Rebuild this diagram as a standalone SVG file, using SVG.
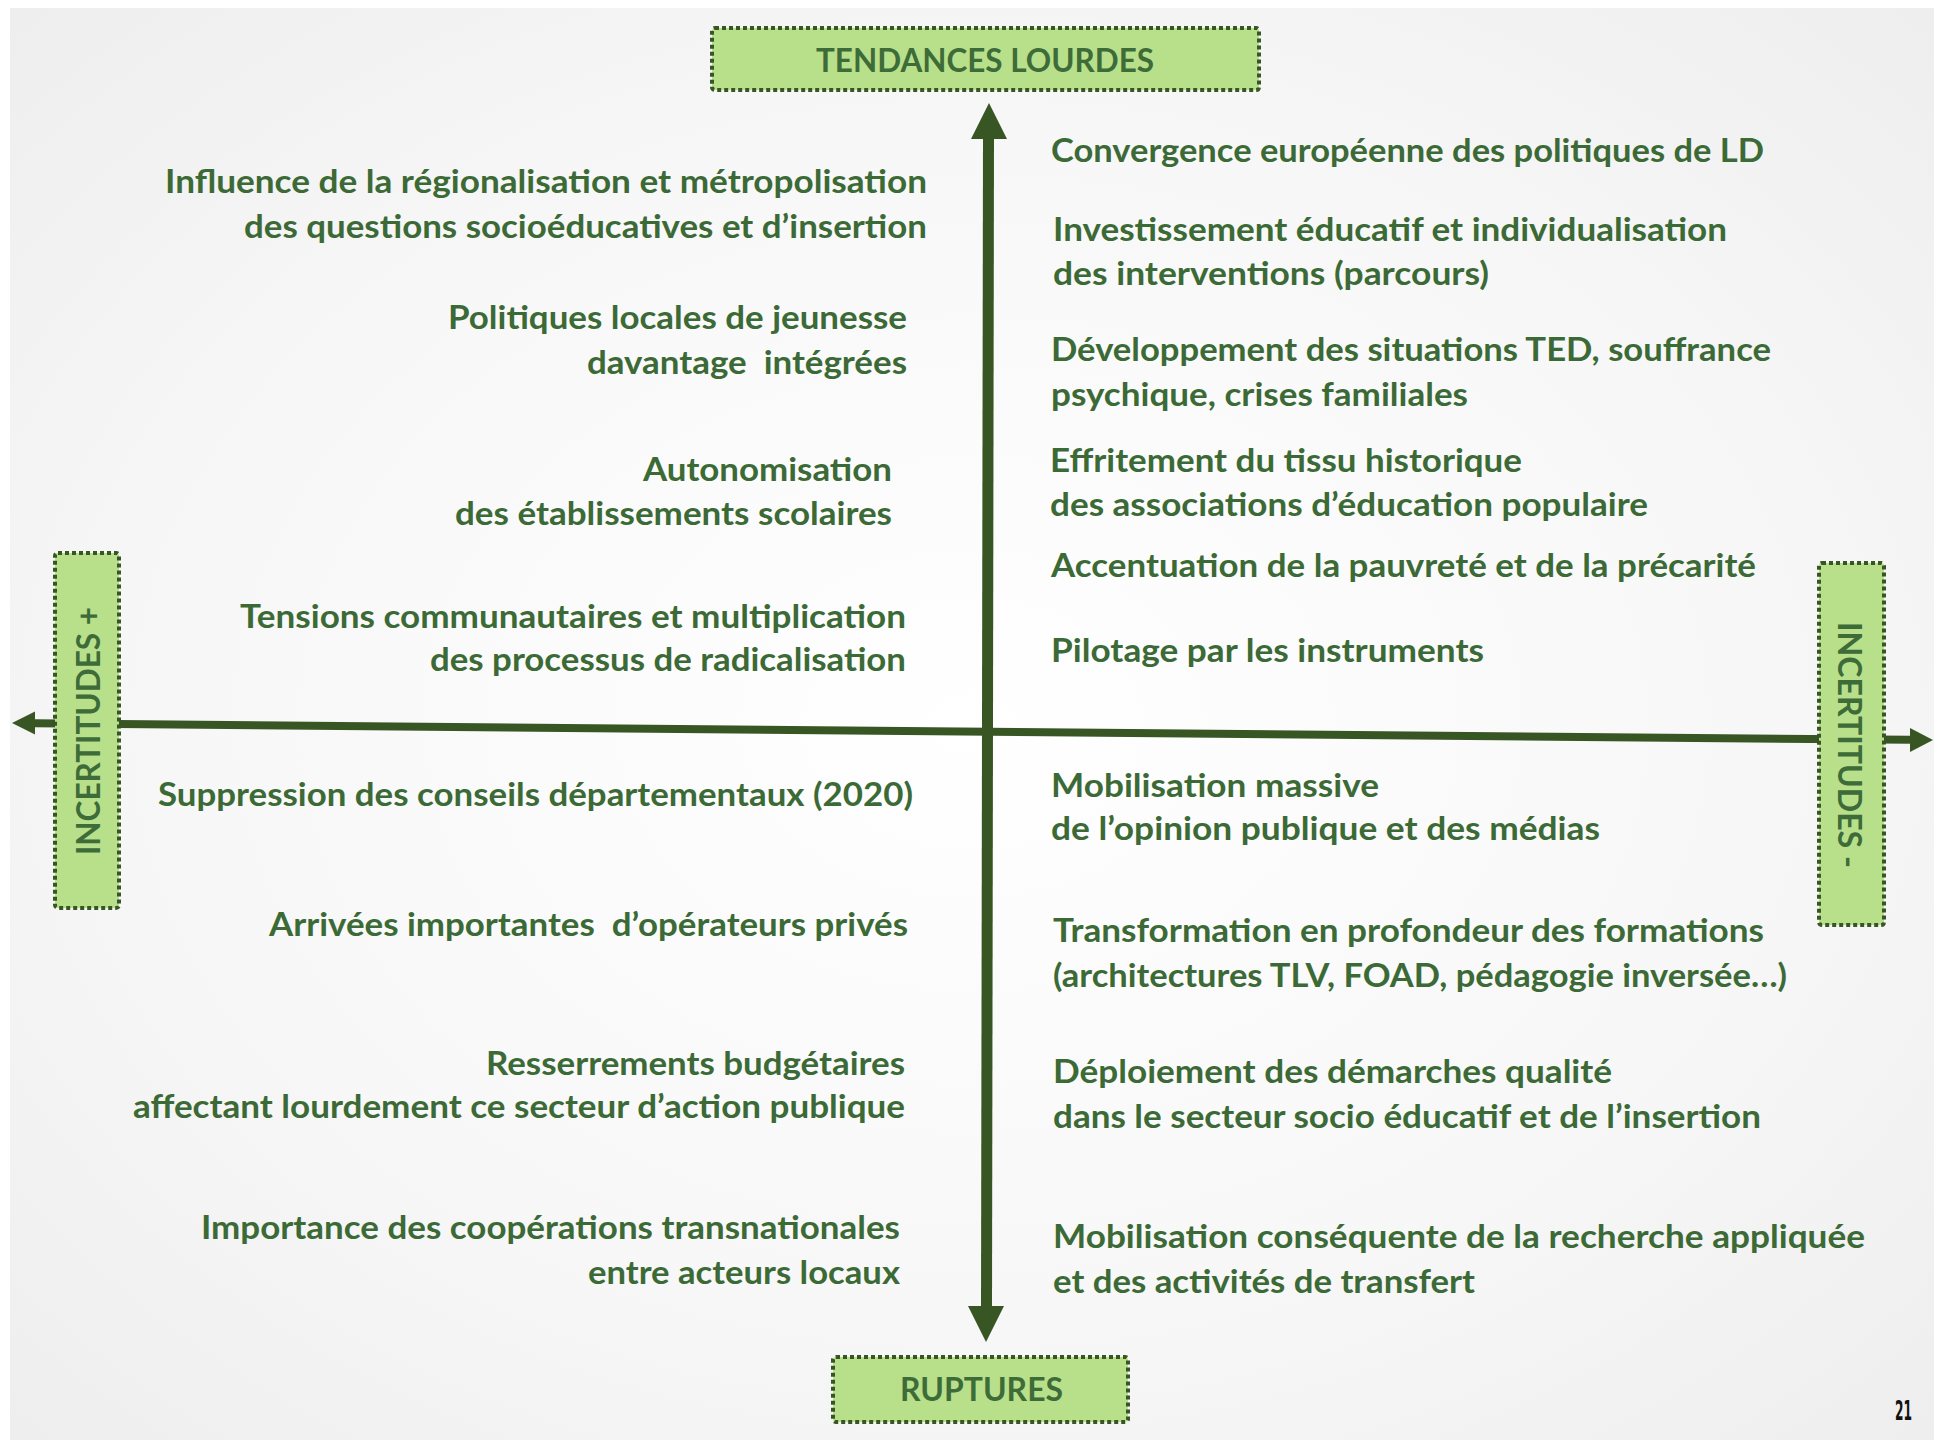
<svg xmlns="http://www.w3.org/2000/svg" width="1934" height="1440" viewBox="0 0 1934 1440">
<defs>
<radialGradient id="bg" cx="50%" cy="50%" r="70%">
<stop offset="0" stop-color="#ffffff"/>
<stop offset="0.6" stop-color="#f7f7f7"/>
<stop offset="1" stop-color="#eeeeee"/>
</radialGradient>
</defs>
<style>
.t{font-family:Lato,"Open Sans","Liberation Sans",sans-serif;font-weight:700;font-size:32px;fill:#3c6a36}
.lbl{font-family:Lato,"Open Sans","Liberation Sans",sans-serif;font-weight:700;font-size:32px;fill:#3e6c39}
.box{fill:#b8e08a;stroke:#375623;stroke-width:4;stroke-dasharray:4 3}
.ax{stroke:#375623;fill:none}
.hd{fill:#375623}
</style>
<rect x="0" y="0" width="1934" height="1440" fill="#ffffff"/>
<rect x="10" y="8" width="1924" height="1432" fill="url(#bg)"/>

<g id="connectors">
<line class="ax" x1="35" y1="723.2" x2="1910" y2="739.8" stroke-width="8"/>
<path class="hd" d="M12,723 L35,711.5 L35,734.5 Z"/>
<path class="hd" d="M1933,740 L1910,728 L1910,752 Z"/>
<line class="ax" x1="988.5" y1="135" x2="986.5" y2="1310" stroke-width="11"/>
<path class="hd" d="M989,103 L1007,139 L971,139 Z"/>
<path class="hd" d="M986,1342 L968,1306 L1004,1306 Z"/>
</g>

<g id="node-tendances">
<rect class="box" x="712" y="28" width="547" height="62" rx="3"/>
<text class="lbl" x="816" y="72" font-size="33" textLength="338" lengthAdjust="spacingAndGlyphs">TENDANCES LOURDES</text>
</g>
<g id="node-ruptures">
<rect class="box" x="833" y="1357" width="295" height="65" rx="3"/>
<text class="lbl" x="900" y="1401" textLength="163" lengthAdjust="spacingAndGlyphs">RUPTURES</text>
</g>
<g id="node-incertitudes-plus">
<rect class="box" x="55" y="553" width="64" height="355" rx="3"/>
<text class="lbl" transform="translate(100,731) rotate(-90)" x="-124" y="0" textLength="248" lengthAdjust="spacingAndGlyphs">INCERTITUDES +</text>
</g>
<g id="node-incertitudes-moins">
<rect class="box" x="1819" y="563" width="65" height="362" rx="3"/>
<text class="lbl" transform="translate(1838,745) rotate(90)" x="-123" y="0" textLength="246" lengthAdjust="spacingAndGlyphs">INCERTITUDES -</text>
</g>

<g id="left-items">
<g id="l1">
<text class="t" x="165" y="193" textLength="762" lengthAdjust="spacingAndGlyphs">Influence de la régionalisation et métropolisation</text>
<text class="t" x="244" y="238" textLength="683" lengthAdjust="spacingAndGlyphs">des questions socioéducatives et d’insertion</text>
</g>
<g id="l2">
<text class="t" x="448" y="329" textLength="459" lengthAdjust="spacingAndGlyphs">Politiques locales de jeunesse</text>
<text class="t" x="587" y="374" textLength="320" lengthAdjust="spacingAndGlyphs" xml:space="preserve">davantage  intégrées</text>
</g>
<g id="l3">
<text class="t" x="643" y="481" textLength="249" lengthAdjust="spacingAndGlyphs">Autonomisation</text>
<text class="t" x="455" y="525" textLength="437" lengthAdjust="spacingAndGlyphs">des établissements scolaires</text>
</g>
<g id="l4">
<text class="t" x="240" y="628" textLength="666" lengthAdjust="spacingAndGlyphs">Tensions communautaires et multiplication</text>
<text class="t" x="430" y="671" textLength="476" lengthAdjust="spacingAndGlyphs">des processus de radicalisation</text>
</g>
<g id="l5">
<text class="t" x="158" y="806" textLength="755" lengthAdjust="spacingAndGlyphs">Suppression des conseils départementaux (2020)</text>
</g>
<g id="l6">
<text class="t" x="269" y="936" textLength="639" lengthAdjust="spacingAndGlyphs" xml:space="preserve">Arrivées importantes  d’opérateurs privés</text>
</g>
<g id="l7">
<text class="t" x="486" y="1075" textLength="419" lengthAdjust="spacingAndGlyphs">Resserrements budgétaires</text>
<text class="t" x="133" y="1118" textLength="772" lengthAdjust="spacingAndGlyphs">affectant lourdement ce secteur d’action publique</text>
</g>
<g id="l8">
<text class="t" x="201" y="1239" textLength="699" lengthAdjust="spacingAndGlyphs">Importance des coopérations transnationales</text>
<text class="t" x="588" y="1284" textLength="312" lengthAdjust="spacingAndGlyphs">entre acteurs locaux</text>
</g>
</g>

<g id="right-items">
<g id="r1">
<text class="t" x="1051" y="162" textLength="713" lengthAdjust="spacingAndGlyphs">Convergence européenne des politiques de LD</text>
</g>
<g id="r2">
<text class="t" x="1053" y="241" textLength="674" lengthAdjust="spacingAndGlyphs">Investissement éducatif et individualisation</text>
<text class="t" x="1053" y="285" textLength="436" lengthAdjust="spacingAndGlyphs">des interventions (parcours)</text>
</g>
<g id="r3">
<text class="t" x="1051" y="361" textLength="720" lengthAdjust="spacingAndGlyphs">Développement des situations TED, souffrance</text>
<text class="t" x="1051" y="406" textLength="417" lengthAdjust="spacingAndGlyphs">psychique, crises familiales</text>
</g>
<g id="r4">
<text class="t" x="1050" y="472" textLength="472" lengthAdjust="spacingAndGlyphs">Effritement du tissu historique</text>
<text class="t" x="1050" y="516" textLength="598" lengthAdjust="spacingAndGlyphs">des associations d’éducation populaire</text>
</g>
<g id="r5">
<text class="t" x="1051" y="577" textLength="705" lengthAdjust="spacingAndGlyphs">Accentuation de la pauvreté et de la précarité</text>
</g>
<g id="r6">
<text class="t" x="1051" y="662" textLength="433" lengthAdjust="spacingAndGlyphs">Pilotage par les instruments</text>
</g>
<g id="r7">
<text class="t" x="1051" y="797" textLength="328" lengthAdjust="spacingAndGlyphs">Mobilisation massive</text>
<text class="t" x="1051" y="840" textLength="549" lengthAdjust="spacingAndGlyphs">de l’opinion publique et des médias</text>
</g>
<g id="r8">
<text class="t" x="1053" y="942" textLength="711" lengthAdjust="spacingAndGlyphs">Transformation en profondeur des formations</text>
<text class="t" x="1053" y="987" textLength="734" lengthAdjust="spacingAndGlyphs">(architectures TLV, FOAD, pédagogie inversée…)</text>
</g>
<g id="r9">
<text class="t" x="1053" y="1083" textLength="559" lengthAdjust="spacingAndGlyphs">Déploiement des démarches qualité</text>
<text class="t" x="1053" y="1128" textLength="708" lengthAdjust="spacingAndGlyphs">dans le secteur socio éducatif et de l’insertion</text>
</g>
<g id="r10">
<text class="t" x="1053" y="1248" textLength="812" lengthAdjust="spacingAndGlyphs">Mobilisation conséquente de la recherche appliquée</text>
<text class="t" x="1053" y="1293" textLength="422" lengthAdjust="spacingAndGlyphs">et des activités de transfert</text>
</g>
</g>

<text x="1895" y="1420" font-family="'DejaVu Sans','Liberation Sans',sans-serif" font-weight="700" font-size="27" fill="#111111" textLength="17" lengthAdjust="spacingAndGlyphs">21</text>
</svg>
